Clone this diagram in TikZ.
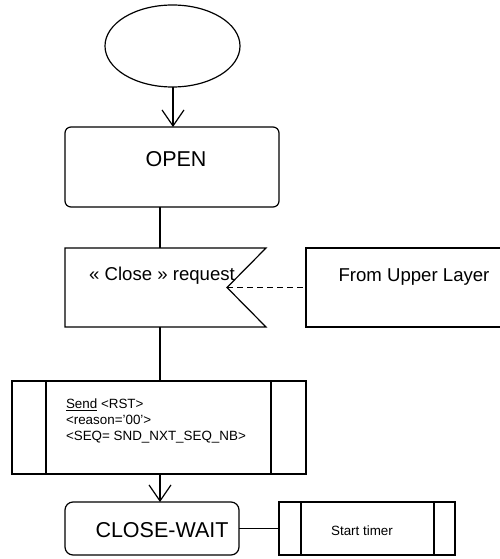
\documentclass[tikz,border=0pt]{standalone}
\usepackage{fontspec}
\setmainfont{Liberation Sans}
\usetikzlibrary{shapes.geometric,arrows.meta}
\begin{document}
\begin{tikzpicture}[x=1pt,y=-1pt,
  line width=1.2pt,
  every node/.style={inner sep=0pt,outer sep=0pt},
  box/.style={draw,rectangle},
  rbox/.style={draw,rectangle,rounded corners=6pt},
  txt/.style={font=\fontsize{18.6pt}{20pt}\selectfont},
  big/.style={font=\fontsize{21.5pt}{23pt}\selectfont},
  small/.style={font=\fontsize{13.4pt}{16pt}\selectfont},
  arr/.style={-{Straight Barb[length=16pt,width=22pt]}}]
\useasboundingbox (0,0) rectangle (500,559);
\clip (0,0) rectangle (500,559);
\node[draw,ellipse,minimum width=135pt,minimum height=82pt] (start) at (172.5,46) {};
\node[rbox,minimum width=214pt,minimum height=80pt] (open) at (172,167) {};
\node[big] (opentxt) at (176,159) {OPEN};
\node[minimum width=201pt,minimum height=79pt] (req) at (165.5,287.5) {};
\draw (req.north west) -- (req.north east) -- ([xshift=-39pt]req.east) -- (req.south east) -- (req.south west) -- cycle;
\coordinate (notch) at ([xshift=-39pt]req.east);
\node[txt] (reqtxt) at (162,276) {« Close » request};
\node[minimum width=260pt,minimum height=79pt] (upper) at (436,287.5) {};
\draw ([xshift=10pt]upper.north east) -- (upper.north west) -- (upper.south west) -- ([xshift=10pt]upper.south east);
\node[txt] (uppertxt) at (414,277) {From Upper Layer};
\node[box,minimum width=294pt,minimum height=93pt] (send) at (159,427.5) {};
\draw ([xshift=34pt]send.north west) -- ([xshift=34pt]send.south west);
\draw ([xshift=-35pt]send.north east) -- ([xshift=-35pt]send.south east);
\node[small,align=left,anchor=west] (sendtxt) at (66,421) {\underline{Send} <RST>\\<reason='00'>\\<SEQ= SND\_NXT\_SEQ\_NB>};
\node[rbox,rounded corners=8pt,minimum width=174pt,minimum height=53pt] (cw) at (152,528.5) {};
\node[big] (cwtxt) at (162,530) {CLOSE-WAIT};
\node[box,minimum width=176pt,minimum height=53pt] (timer) at (367,528.5) {};
\draw ([xshift=22pt]timer.north west) -- ([xshift=22pt]timer.south west);
\draw ([xshift=-21pt]timer.north east) -- ([xshift=-21pt]timer.south east);
\node[small] (timertxt) at (362,531) {Start timer};
\draw[arr] ([xshift=0.5pt]start.south) -- ([xshift=1pt]open.north);
\draw ([xshift=-12pt]open.south) -- ([xshift=-5.5pt]req.north);
\draw[dashed,dash pattern=on 6pt off 4pt] (notch) -- (notch -| upper.west);
\draw ([xshift=-5.5pt]req.south) -- ([xshift=1pt]send.north);
\draw[arr] ([xshift=1pt]send.south) -- ([xshift=8pt]cw.north);
\draw (cw.east) -- (timer.west);
\end{tikzpicture}
\end{document}
